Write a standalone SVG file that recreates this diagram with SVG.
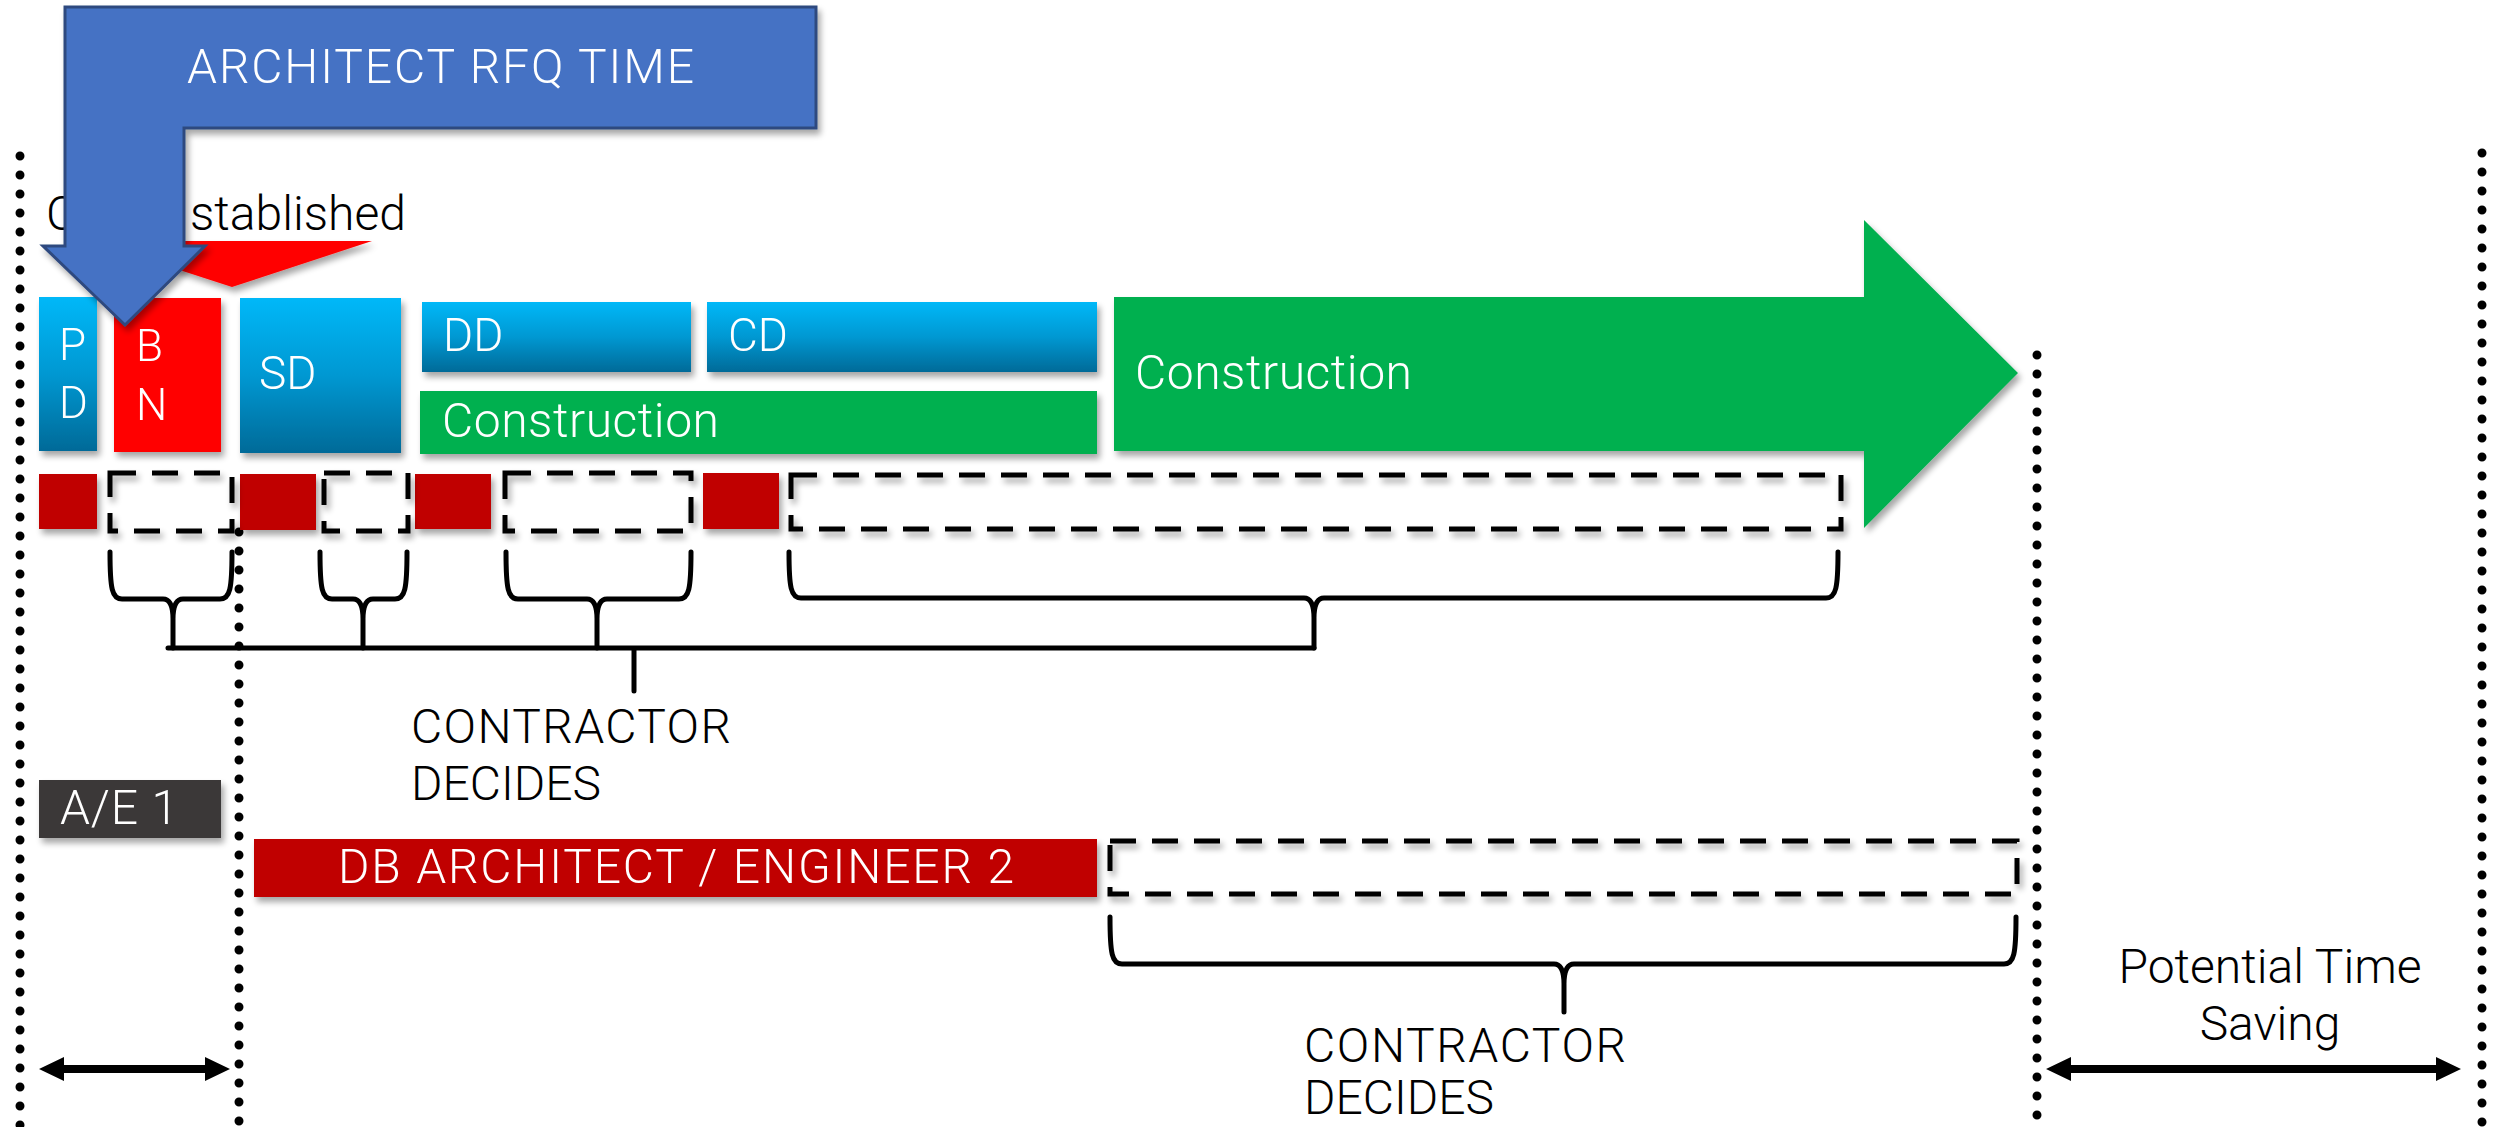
<svg xmlns="http://www.w3.org/2000/svg" width="2496" height="1127" viewBox="0 0 2496 1127">
<defs>
<style>
.t{font-family:Roboto,"Liberation Sans",sans-serif;font-weight:300;}
.w{fill:#fff;}
.k{fill:#000;}
.dash{fill:none;stroke:#000;stroke-width:5;stroke-dasharray:26 16;}
.dot{stroke:#000;stroke-width:9;stroke-linecap:round;stroke-dasharray:0 19;fill:none;}
.br{fill:none;stroke:#000;stroke-width:5;stroke-linecap:round;stroke-linejoin:round;}
</style>
<linearGradient id="bg" x1="0" y1="0" x2="0" y2="1">
<stop offset="0" stop-color="#00B8F8"/>
<stop offset="0.5" stop-color="#0098D2"/>
<stop offset="1" stop-color="#006A98"/>
</linearGradient>
<filter id="sh" x="-10%" y="-20%" width="130%" height="160%">
<feGaussianBlur in="SourceAlpha" stdDeviation="3"/>
<feOffset dx="3" dy="5"/>
<feComponentTransfer><feFuncA type="linear" slope="0.35"/></feComponentTransfer>
<feMerge><feMergeNode/><feMergeNode in="SourceGraphic"/></feMerge>
</filter>
</defs>
<rect width="2496" height="1127" fill="#fff"/>

<g id="guides">
<line class="dot" x1="20" y1="156" x2="20" y2="1127"/>
<line class="dot" x1="239" y1="532" x2="239" y2="1127"/>
<line class="dot" x1="2037" y1="355" x2="2037" y2="1127"/>
<line class="dot" x1="2482" y1="153" x2="2482" y2="1127"/>
</g>

<g id="established">
<polygon points="90,241 372,241 232,287" fill="#FF0000" filter="url(#sh)"/>
<text class="t k" font-size="48" y="230"><tspan x="46">CM E</tspan><tspan x="190">stablished</tspan></text>
</g>

<g id="pd" filter="url(#sh)">
<rect x="39" y="297" width="58" height="154" fill="url(#bg)"/>
<text class="t w" font-size="44" x="59" y="360">P</text>
<text class="t w" font-size="44" x="59" y="418">D</text>
</g>
<g id="bn" filter="url(#sh)">
<rect x="114" y="298" width="107" height="154" fill="#FF0000"/>
<text class="t w" font-size="44" x="136" y="361">B</text>
<text class="t w" font-size="44" x="136" y="420">N</text>
</g>
<g id="sd" filter="url(#sh)">
<rect x="240" y="298" width="161" height="155" fill="url(#bg)"/>
<text class="t w" font-size="46" x="259" y="389">SD</text>
</g>
<g id="dd" filter="url(#sh)">
<rect x="422" y="302" width="269" height="70" fill="url(#bg)"/>
<text class="t w" font-size="46" x="443" y="351">DD</text>
</g>
<g id="cd" filter="url(#sh)">
<rect x="707" y="302" width="390" height="70" fill="url(#bg)"/>
<text class="t w" font-size="46" x="728" y="351">CD</text>
</g>
<g id="construction1" filter="url(#sh)">
<rect x="420" y="391" width="677" height="63" fill="#00B050"/>
<text class="t w" font-size="48" x="442" y="437" textLength="277">Construction</text>
</g>
<g id="construction2" filter="url(#sh)">
<polygon points="1114,297 1864,297 1864,220 2018,373 1864,528 1864,451 1114,451" fill="#00B050"/>
<text class="t w" font-size="48" x="1135" y="389" textLength="277">Construction</text>
</g>

<g id="row2">
<g filter="url(#sh)">
<rect x="39" y="474" width="58" height="55" fill="#C00000"/>
<rect x="240" y="474" width="76" height="56" fill="#C00000"/>
<rect x="415" y="474" width="76" height="55" fill="#C00000"/>
<rect x="703" y="473" width="76" height="56" fill="#C00000"/>
</g>
<g filter="url(#sh)">
<rect class="dash" x="110" y="473" width="122" height="58"/>
<rect class="dash" x="324" y="473" width="84" height="58"/>
<rect class="dash" x="505" y="473" width="186" height="58"/>
<rect class="dash" x="791" y="475" width="1050" height="54"/>
</g>
</g>

<g id="connectors">
<path class="br" d="M110,552 C110,589 112,599 122,599 L163,599 C170,599 173,605 173,619 L173,648 M232,552 C232,589 230,599 220,599 L183,599 C176,599 173,605 173,619"/>
<path class="br" d="M320,552 C320,589 322,599 332,599 L353,599 C360,599 363,605 363,619 L363,648 M407,552 C407,589 405,599 395,599 L373,599 C366,599 363,605 363,619"/>
<path class="br" d="M506,552 C506,589 508,599 518,599 L587,599 C594,599 597,605 597,619 L597,648 M691,552 C691,589 689,599 679,599 L607,599 C600,599 597,605 597,619"/>
<path class="br" d="M789,552 C789,588 791,598 801,598 L1304,598 C1311,598 1314,604 1314,618 L1314,648 M1838,552 C1838,588 1836,598 1826,598 L1324,598 C1317,598 1314,604 1314,618"/>
<path class="br" d="M168,648 L1314,648 M634,648 L634,691"/>
<path class="br" d="M1110,917 C1110,954 1112,964 1122,964 L1554,964 C1561,964 1564,970 1564,984 L1564,1012 M2016,917 C2016,954 2014,964 2004,964 L1574,964 C1567,964 1564,970 1564,984"/>
<polygon points="39,1069 64,1057 64,1065 205,1065 205,1057 230,1069 205,1081 205,1073 64,1073 64,1081" fill="#000"/>
<polygon points="2046,1069 2071,1057 2071,1065 2436,1065 2436,1057 2461,1069 2436,1081 2436,1073 2071,1073 2071,1081" fill="#000"/>
</g>

<g id="decides1">
<text class="t k" font-size="48" x="411" y="743" textLength="320">CONTRACTOR</text>
<text class="t k" font-size="48" x="411" y="800">DECIDES</text>
</g>

<g id="ae1" filter="url(#sh)">
<rect x="39" y="780" width="182" height="58" fill="#3A3838"/>
<text class="t w" font-size="48" x="60" y="824" textLength="118">A/E 1</text>
</g>
<g id="db" filter="url(#sh)">
<rect x="254" y="839" width="843" height="58" fill="#C00000"/>
<text class="t w" font-size="48" x="338" y="883" textLength="676">DB ARCHITECT / ENGINEER 2</text>
</g>
<g id="lowerdash" filter="url(#sh)">
<rect class="dash" x="1110" y="841" width="907" height="53"/>
</g>

<g id="decides2">
<text class="t k" font-size="48" x="1304" y="1062" textLength="322">CONTRACTOR</text>
<text class="t k" font-size="48" x="1304" y="1114">DECIDES</text>
</g>

<g id="saving">
<text class="t k" font-size="48" x="2270" y="983" text-anchor="middle">Potential Time</text>
<text class="t k" font-size="48" x="2270" y="1040" text-anchor="middle">Saving</text>
</g>

<g id="rfq" filter="url(#sh)">
<polygon points="65,7 816,7 816,128 184,128 184,246 205,246 125,325 43,246 65,246" fill="#4472C4" stroke="#2F4A7F" stroke-width="3" stroke-linejoin="miter"/>
<text class="t w" font-size="48" x="187" y="83" textLength="507">ARCHITECT RFQ TIME</text>
</g>
</svg>
